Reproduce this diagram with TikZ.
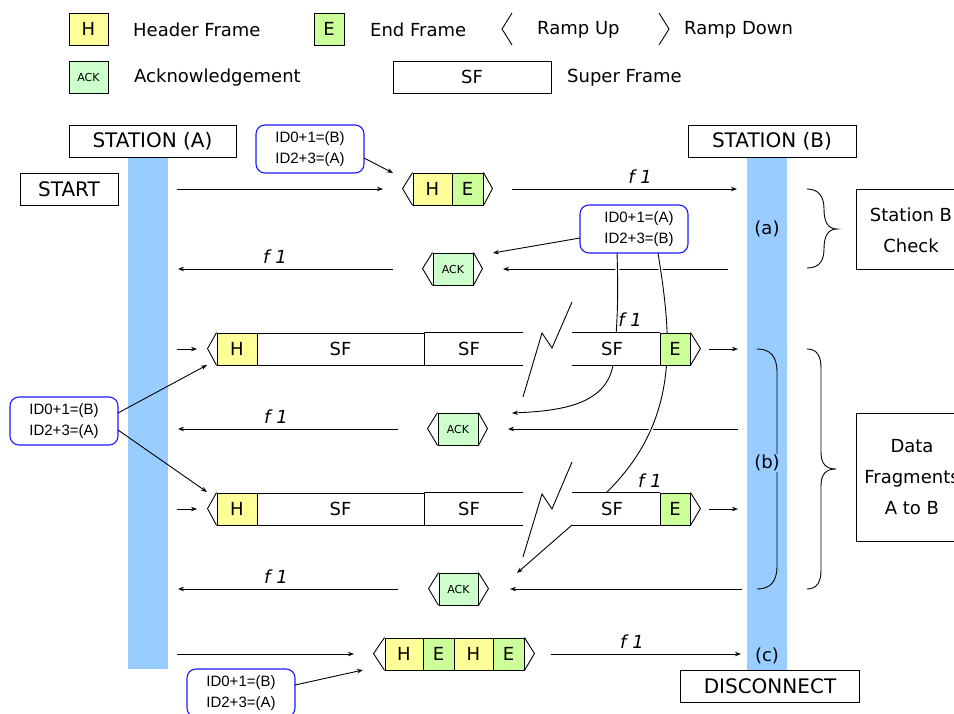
\documentclass[tikz,border=0pt]{standalone}
\usepackage{fontspec}
\setmainfont{DejaVu Sans}[ItalicFont={DejaVu Sans Oblique}]
\newfontfamily\arialfont{Liberation Sans}
\usetikzlibrary{arrows.meta}
\definecolor{hyel}{HTML}{FFFF99}
\definecolor{egrn}{HTML}{CCFF99}
\definecolor{ackg}{HTML}{CCFFCC}
\definecolor{barb}{HTML}{99CCFF}
\definecolor{idblue}{HTML}{1A1AFF}
\begin{document}
\begin{tikzpicture}[x=1pt,y=-1pt,
  box/.style={draw, line width=0.9pt, inner sep=0pt, minimum height=32pt, font=\fontsize{20}{24}\selectfont},
  fr/.style={draw, line width=0.9pt, inner sep=0pt, minimum height=32pt, font=\fontsize{18}{20}\selectfont},
  hfr/.style={fr, fill=hyel},
  efr/.style={fr, fill=egrn},
  ackfr/.style={fr, fill=ackg, font=\fontsize{11}{12}\selectfont},
  openfr/.style={fr, draw=none, fill=white},
  ramp/.style={draw, line width=0.9pt},
  arr/.style={-{Stealth[length=6pt,width=4.5pt]}, line width=0.9pt},
  curv/.style={arr, preaction={draw=white, line width=4pt, arrows=-}},
  flab/.style={font=\fontsize{18}{20}\selectfont\itshape, inner sep=0pt},
  idbox/.style={draw=idblue, line width=1.1pt, rounded corners=9pt, minimum width=108pt, minimum height=48pt, inner sep=0pt, align=center, font=\arialfont\fontsize{15}{21}\selectfont},
  legtxt/.style={anchor=west, inner sep=0pt, font=\fontsize{18}{20}\selectfont},
  barlab/.style={inner sep=1pt, fill=barb, font=\fontsize{18}{20}\selectfont},
  sidetxt/.style={align=center, inner sep=0pt, font=\fontsize{18}{31}\selectfont},
  brace/.style={line width=0.9pt}
]
\useasboundingbox (0,0) rectangle (954,713);
\begin{scope}
\clip (0,0) rectangle (954,713);

% ---------- legend ----------
\node[hfr, minimum width=39pt] (legH) at (88.5,29) {H};
\node[legtxt] (legHt) at (133,30) {Header Frame};
\node[efr, minimum width=30pt] (legE) at (329,29) {E};
\node[legtxt] (legEt) at (370,30) {End Frame};
\draw[ramp] (512,13) -- (502,29) -- (512,45);
\node[legtxt] (legUt) at (537,30) {Ramp Up};
\draw[ramp] (659,13) -- (669,29) -- (659,45);
\node[legtxt] (legDt) at (684,30) {Ramp Down};
\node[ackfr, minimum width=39pt] (legA) at (88.5,77) {ACK};
\node[legtxt] (legAt) at (134,78) {Acknowledgement};
\node[fr, minimum width=158pt] (legSF) at (472,77) {SF};
\node[legtxt] (legSFt) at (567,78) {Super Frame};

% ---------- stations ----------
\fill[barb] (128,157) rectangle (168,669);
\fill[barb] (747,157) rectangle (787,670);
\node[box, minimum width=167pt] (staA) at (152.5,141) {STATION (A)};
\node[box, minimum width=98pt] (start) at (69,189) {START};
\node[box, minimum width=168pt] (staB) at (772,141) {STATION (B)};
\node[box, minimum width=179pt] (disc) at (770,686) {DISCONNECT};

% side boxes
\draw[line width=0.9pt] (856,189) rectangle (990,269);
\node[sidetxt] (chk) at (911,230) {Station B\\Check};
\draw[line width=0.9pt] (856,413) rectangle (990,541);
\node[sidetxt] (dfr) at (912,477) {Data\\Fragments\\A to B};

% braces
\draw[brace] (807,189) .. controls (819,189) and (824,197) .. (824,209)
  .. controls (824,222) and (828,229) .. (837,229)
  .. controls (828,229) and (824,236) .. (824,249)
  .. controls (824,261) and (819,268) .. (807,268);
\draw[brace] (807,349) .. controls (817,349) and (821,356) .. (821,368) -- (821,452)
  .. controls (821,464) and (826,469) .. (836,469)
  .. controls (826,469) and (821,474) .. (821,486) -- (821,570)
  .. controls (821,582) and (817,589) .. (807,589);
\draw[brace] (757,349) .. controls (770,349) and (777,356) .. (777,372) -- (777,566)
  .. controls (777,582) and (770,589) .. (757,589);

% ---------- coordinates ----------
\coordinate (t1s) at (177,189); \coordinate (t1e) at (383,189);
\coordinate (t2s) at (512,189); \coordinate (t2e) at (737,189);
\coordinate (k1ls) at (393,269); \coordinate (k1le) at (178,269);
\coordinate (k1rs) at (728,269); \coordinate (k1re) at (503,269);
\coordinate (r1ls) at (177,349); \coordinate (r1le) at (197,349);
\coordinate (r1rs) at (709,349); \coordinate (r1re) at (738,349);
\coordinate (k2ls) at (398,429); \coordinate (k2le) at (178,429);
\coordinate (k2rs) at (738,429); \coordinate (k2re) at (508,429);
\coordinate (r2ls) at (177,509); \coordinate (r2le) at (197,509);
\coordinate (r2rs) at (709,509); \coordinate (r2re) at (738,509);
\coordinate (k3ls) at (398,589); \coordinate (k3le) at (178,589);
\coordinate (k3rs) at (742,589); \coordinate (k3re) at (510,589);
\coordinate (b1s) at (177,654); \coordinate (b1e) at (354,654);
\coordinate (b2s) at (551,654); \coordinate (b2e) at (741,654);

% ---------- horizontal arrows ----------
\draw[arr] (t1s) -- (t1e);
\draw[arr] (t2s) -- (t2e);
\draw[arr] (k1ls) -- (k1le);
\draw[arr] (k1rs) -- (k1re);
\draw[arr] (r1ls) -- (r1le);
\draw[arr] (r1rs) -- (r1re);
\draw[arr] (k2ls) -- (k2le);
\draw[arr] (k2rs) -- (k2re);
\draw[arr] (r2ls) -- (r2le);
\draw[arr] (r2rs) -- (r2re);
\draw[arr] (k3ls) -- (k3le);
\draw[arr] (k3rs) -- (k3re);
\draw[arr] (b1s) -- (b1e);
\draw[arr] (b2s) -- (b2e);

% ---------- curves from ID box (a) ----------
\coordinate (c1s) at (617,253); \coordinate (c1e) at (512,413);
\coordinate (c2s) at (658,253); \coordinate (c2e) at (517,573);
\draw[curv] (c1s) .. controls (619,310) and (616,340) .. (613,365)
  .. controls (606,405) and (560,411) .. (c1e);
\draw[curv] (c2s) .. controls (672,340) and (680,420) .. (607,492) -- (572,525) -- (c2e);

% ---------- top H E frame ----------
\node[hfr, minimum width=39pt] (teH) at (432.5,189) {H};
\node[efr, minimum width=31pt] (teE) at (467.5,189) {E};
\draw[ramp] (teH.north west) -- ++(-10,16) -- (teH.south west);
\draw[ramp] (teE.north east) -- ++(9,16) -- (teE.south east);

% ---------- ACK frames ----------
\node[ackfr, minimum width=40pt] (ack1) at (453,269) {ACK};
\draw[ramp] (ack1.north west) -- ++(-10,16) -- (ack1.south west);
\draw[ramp] (ack1.north east) -- ++(9,16) -- (ack1.south east);
\node[ackfr, minimum width=40pt] (ack2) at (458,429) {ACK};
\draw[ramp] (ack2.north west) -- ++(-10,16) -- (ack2.south west);
\draw[ramp] (ack2.north east) -- ++(9,16) -- (ack2.south east);
\node[ackfr, minimum width=39pt] (ack3) at (458.5,589) {ACK};
\draw[ramp] (ack3.north west) -- ++(-10,16) -- (ack3.south west);
\draw[ramp] (ack3.north east) -- ++(10,16) -- (ack3.south east);

% ---------- data row 1 ----------
\node[openfr, minimum width=99pt] (r1B) at (473.5,349) {};
\node[openfr, minimum width=88pt] (r1C) at (616,349) {};
\draw[line width=0.9pt] (r1B.north west) -- (r1B.north east) (r1B.south west) -- (r1B.south east);
\draw[line width=0.9pt] (r1C.north west) -- (r1C.north east) (r1C.south west) -- (r1C.south east);
\node[fr, draw=none, inner sep=0pt] (r1Bt) at (469,349) {SF};
\node[fr, draw=none, inner sep=0pt] (r1Ct) at (612,349) {SF};
\node[fr, fill=white, minimum width=167pt] (r1A) at (340.5,349) {SF};
\node[hfr, minimum width=40pt] (r1H) at (237,349) {H};
\draw[ramp] (r1H.north west) -- ++(-9,16) -- (r1H.south west);
\node[efr, minimum width=30pt] (r1E) at (675,349) {E};
\draw[ramp] (r1E.north east) -- ++(10,16) -- (r1E.south east);
\draw[line width=0.9pt] (523,397) -- (542,333) -- (552,348) -- (572,302);

% ---------- data row 2 ----------
\node[openfr, minimum width=99pt] (r2B) at (473.5,509) {};
\node[openfr, minimum width=88pt] (r2C) at (616,509) {};
\draw[line width=0.9pt] (r2B.north west) -- (r2B.north east) (r2B.south west) -- (r2B.south east);
\draw[line width=0.9pt] (r2C.north west) -- (r2C.north east) (r2C.south west) -- (r2C.south east);
\node[fr, draw=none, inner sep=0pt] (r2Bt) at (469,509) {SF};
\node[fr, draw=none, inner sep=0pt] (r2Ct) at (612,509) {SF};
\node[fr, fill=white, minimum width=167pt] (r2A) at (340.5,509) {SF};
\node[hfr, minimum width=40pt] (r2H) at (237,509) {H};
\draw[ramp] (r2H.north west) -- ++(-9,16) -- (r2H.south west);
\node[efr, minimum width=30pt] (r2E) at (675,509) {E};
\draw[ramp] (r2E.north east) -- ++(10,16) -- (r2E.south east);
\draw[line width=0.9pt] (523,557) -- (542,494) -- (552,509) -- (572,462);

% ---------- bottom H E H E ----------
\node[hfr, minimum width=38pt] (bH1) at (404,654) {H};
\node[efr, minimum width=31pt] (bE1) at (438.5,654) {E};
\node[hfr, minimum width=39pt] (bH2) at (473.5,654) {H};
\node[efr, minimum width=31pt] (bE2) at (508.5,654) {E};
\draw[ramp] (bH1.north west) -- ++(-11,16) -- (bH1.south west);
\draw[ramp] (bE2.north east) -- ++(10,16) -- (bE2.south east);

% ---------- ID boxes ----------
\node[idbox] (idT) at (310,149) {ID0+1=(B)\\ID2+3=(A)};
\node[idbox] (idA) at (634,229) {\hspace*{10pt}ID0+1=(A)\\\hspace*{10pt}ID2+3=(B)};
\node[idbox] (idL) at (64,421) {ID0+1=(B)\\ID2+3=(A)};
\node[idbox] (idB) at (241,693) {ID0+1=(B)\\ID2+3=(A)};
\coordinate (iTs) at (364,158); \coordinate (iTe) at (393,173);
\coordinate (iAs) at (580,238); \coordinate (iAe) at (493,253);
\coordinate (iL1s) at (118,413); \coordinate (iL1e) at (207,365);
\coordinate (iL2s) at (118,430); \coordinate (iL2e) at (207,492);
\coordinate (iBs) at (295,685); \coordinate (iBe) at (363,670);
\draw[arr] (iTs) -- (iTe);
\draw[arr] (iAs) -- (iAe);
\draw[arr] (iL1s) -- (iL1e);
\draw[arr] (iL2s) -- (iL2e);
\draw[arr] (iBs) -- (iBe);

% ---------- labels ----------
\node[flab] (f1) at (640,177) {f 1};
\node[flab] (f2) at (275,257) {f 1};
\node[flab] (f3) at (630,320) {f 1};
\node[flab] (f4) at (276,417) {f 1};
\node[flab] (f5) at (650,481) {f 1};
\node[flab] (f6) at (276,577) {f 1};
\node[flab] (f7) at (632,642) {f 1};
\node[barlab] (la) at (767,229) {(a)};
\node[barlab] (lb) at (767,463) {(b)};
\node[barlab] (lc) at (767,656) {(c)};
\end{scope}
\end{tikzpicture}
\end{document}
